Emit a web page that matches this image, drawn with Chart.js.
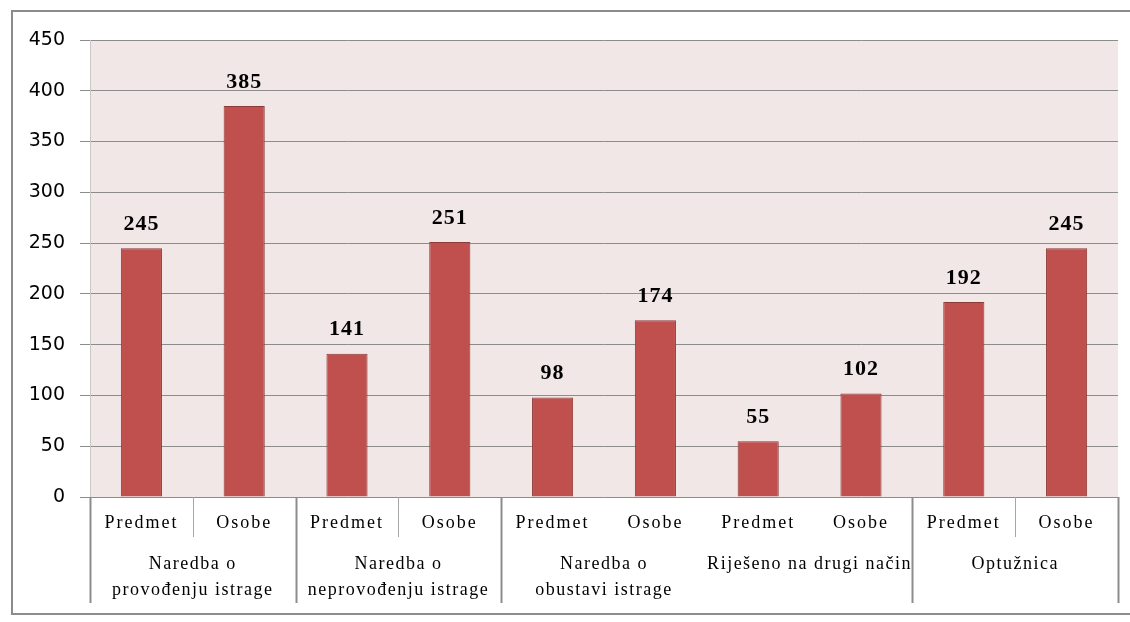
<!DOCTYPE html>
<html>
<head>
<meta charset="utf-8">
<script src="https://cdn.jsdelivr.net/npm/chart.js@4"></script>
<style>
    body { margin: 0; background: #ffffff; }
    #wrap { width: 1130px; height: 622px; }
</style>
</head>
<body>
<div id="wrap"><canvas id="chart" width="1130" height="622"></canvas></div>
<script>
// chart data
const groups = [
    ["Naredba o", "provođenju istrage"],
    ["Naredba o", "neprovođenju istrage"],
    ["Naredba o", "obustavi istrage"],
    ["Riješeno na drugi način"],
    ["Optužnica"]
];
const subCategories = ["Predmet", "Osobe"];
const values = [245, 385, 141, 251, 98, 174, 55, 102, 192, 245];
const yTicks = [0, 50, 100, 150, 200, 250, 300, 350, 400, 450];
// groups whose dividers the original did not draw
const hiddenDividers = [2, 3];

const labels = groups.flatMap(function () { return subCategories; });

const frameAndLabels = {
    id: "frameAndLabels",
    beforeDraw: function (chart) {
        const ctx = chart.ctx, a = chart.chartArea;
        ctx.save();
        ctx.letterSpacing = "0px";
        ctx.fillStyle = "#ffffff";
        ctx.fillRect(0, 0, chart.width, chart.height);
        ctx.strokeStyle = "#8c8c8c";
        ctx.lineWidth = 2;
        ctx.strokeRect(12, 11, 1130, 603);
        ctx.fillStyle = "#f2e7e7";
        ctx.fillRect(a.left, a.top, a.right - a.left, a.bottom - a.top);
        ctx.restore();
    },
    afterDraw: function (chart) {
        const ctx = chart.ctx, x = chart.scales.x, a = chart.chartArea;
        const n = labels.length, w = (x.right - x.left) / n;
        ctx.save();
        // separators
        for (let i = 0; i <= n; i++) {
            const px = Math.round(x.left + i * w) + 0.5;
            const g = Math.floor(i / subCategories.length);
            const isGroup = i % subCategories.length === 0;
            if (isGroup) {
                if (i > 0 && i < n && hiddenDividers.includes(g - 1) && hiddenDividers.includes(g)) continue;
                ctx.strokeStyle = "#8c8c8c";
                ctx.lineWidth = 2;
                ctx.beginPath();
                ctx.moveTo(px, a.bottom);
                ctx.lineTo(px, a.bottom + 106);
                ctx.stroke();
            } else {
                if (hiddenDividers.includes(g)) continue;
                ctx.strokeStyle = "#a6a6a6";
                ctx.lineWidth = 1;
                ctx.beginPath();
                ctx.moveTo(px, a.bottom);
                ctx.lineTo(px, a.bottom + 40);
                ctx.stroke();
            }
        }
        // sub category labels
        ctx.fillStyle = "#000000";
        ctx.textAlign = "center";
        ctx.textBaseline = "middle";
        ctx.font = "18px 'Liberation Serif'";
        ctx.letterSpacing = "2px";
        labels.forEach(function (lbl, i) {
            ctx.fillText(lbl, x.getPixelForValue(i), a.bottom + 26);
        });
        // group labels
        ctx.letterSpacing = "1.5px";
        groups.forEach(function (lines, g) {
            const cx = x.left + (g + 0.5) * w * subCategories.length;
            lines.forEach(function (line, k) {
                ctx.fillText(line, cx, a.bottom + 67 + k * 26);
            });
        });
        // value labels
        ctx.font = "bold 22px 'Liberation Serif'";
        ctx.letterSpacing = "1px";
        const meta = chart.getDatasetMeta(0);
        meta.data.forEach(function (bar, i) {
            ctx.fillText(String(values[i]), bar.x, bar.y - 24);
        });
        ctx.letterSpacing = "0px";
        ctx.restore();
    }
};

new Chart(document.getElementById("chart").getContext("2d"), {
    type: "bar",
    data: {
        labels: labels,
        datasets: [{
            data: values,
            backgroundColor: "#c0504d",
            borderColor: "#8c3a37",
            borderWidth: 1,
            categoryPercentage: 1,
            barPercentage: 0.4
        }]
    },
    options: {
        responsive: false,
        devicePixelRatio: 1,
        animation: false,
        layout: { padding: { top: 40, right: 12, left: 0, bottom: 0 } },
        plugins: {
            legend: { display: false },
            tooltip: { enabled: false }
        },
        scales: {
            x: {
                grid: { display: false },
                border: { display: false },
                ticks: { display: false },
                afterFit: function (scale) { scale.height = 125; }
            },
            y: {
                min: 0,
                max: 450,
                afterBuildTicks: function (scale) {
                    scale.ticks = yTicks.map(function (v) { return { value: v }; });
                },
                grid: { color: "#8c8c8c", lineWidth: 1, tickLength: 10 },
                border: { display: true, color: "#c8c8c8" },
                ticks: {
                    color: "#000000",
                    padding: 15,
                    font: { family: "DejaVu Sans", size: 19 }
                },
                afterFit: function (scale) { scale.width = 90; }
            }
        }
    },
    plugins: [frameAndLabels]
});
</script>
</body>
</html>
